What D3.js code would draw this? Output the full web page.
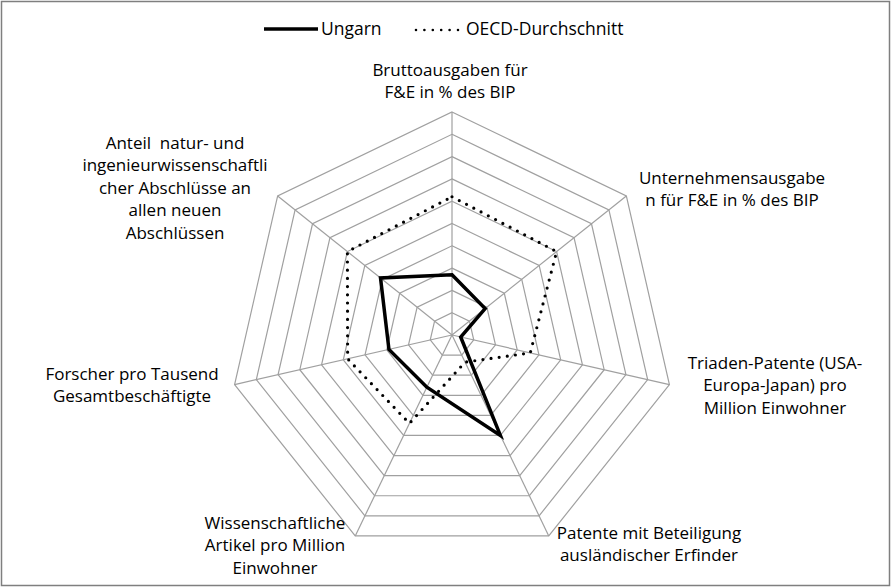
<!DOCTYPE html>
<html>
<head>
<meta charset="utf-8">
<script src="https://cdn.jsdelivr.net/npm/d3@7"></script>
<style>
  body { margin: 0; background: #fff; }
  text { font-family: "Open Sans", sans-serif; fill: #000; white-space: pre; }
</style>
</head>
<body>
<div id="radar-chart"></div>
<script>
// axis labels, clockwise from the top
const axes = [
    ["Bruttoausgaben für", "F&E in % des BIP"],
    ["Unternehmensausgabe", "n für F&E in % des BIP"],
    ["Triaden-Patente (USA-", "Europa-Japan) pro", "Million Einwohner"],
    ["Patente mit Beteiligung", "ausländischer Erfinder"],
    ["Wissenschaftliche", "Artikel pro Million", "Einwohner"],
    ["Forscher pro Tausend", "Gesamtbeschäftigte"],
    ["Anteil  natur- und", "ingenieurwissenschaftli", "cher Abschlüsse an", "allen neuen", "Abschlüssen"]
];
const ungarn = [2.7, 1.9, 0.4, 5.0, 2.6, 2.9, 4.1];
const oecd = [6.2, 6.0, 3.6, 1.35, 4.4, 4.8, 6.0];
const rings = d3.range(1, 11);
const seriesNames = ["Ungarn", "OECD-Durchschnitt"];

let width = 891, height = 587;
let cx = 452, cy = 335;

// where each label block sits (centre x, first line centre y)
const labelPos = [
    [450, 70], [732, 178], [775, 363], [649, 533],
    [275, 523], [132, 374], [175, 143]
];

var svg = d3.select("#radar-chart")
    .append("svg")
    .attr("width", width)
    .attr("height", height);

svg.append("rect")
    .attr("x", 1.5).attr("y", 1.5)
    .attr("width", width - 3).attr("height", height - 3)
    .style("fill", "none")
    .style("stroke", "#7f7f7f")
    .style("stroke-width", 1.5);

var r = d3.scaleLinear().domain([0, 10]).range([0, 223]);
var angle = d3.scaleLinear().domain([0, axes.length]).range([0, 2 * Math.PI]);

var g = svg.append("g").attr("transform", "translate(" + cx + "," + cy + ")");

var ringLine = d3.lineRadial()
    .angle(function(d, i) { return angle(i); })
    .radius(function(d) { return r(d); })
    .curve(d3.curveLinearClosed);

g.append("g")
    .attr("class", "rings")
    .selectAll("path")
    .data(rings)
    .enter().append("path")
    .attr("d", function(k) { return ringLine(axes.map(function() { return k; })); })
    .style("fill", "none")
    .style("stroke", "#a0a0a0")
    .style("stroke-width", 1.2);

g.append("g")
    .attr("class", "spokes")
    .selectAll("line")
    .data(axes)
    .enter().append("line")
    .attr("x1", 0).attr("y1", 0)
    .attr("x2", function(d, i) { return r(10) * Math.sin(angle(i)); })
    .attr("y2", function(d, i) { return -r(10) * Math.cos(angle(i)); })
    .style("stroke", "#a0a0a0")
    .style("stroke-width", 1.2);

g.append("path")
    .datum(oecd)
    .attr("d", ringLine)
    .style("fill", "none")
    .style("stroke", "#000")
    .style("stroke-width", 3.2)
    .style("stroke-linecap", "round")
    .style("stroke-dasharray", "0,8.2");

g.append("path")
    .datum(ungarn)
    .attr("d", ringLine)
    .style("fill", "none")
    .style("stroke", "#000")
    .style("stroke-width", 3.5)
    .style("stroke-linejoin", "miter");

// axis labels
svg.append("g")
    .attr("class", "labels")
    .selectAll("text")
    .data(axes)
    .enter().append("text")
    .attr("text-anchor", "middle")
    .style("font-size", "17px")
    .each(function(lines, i) {
        d3.select(this).selectAll("tspan")
            .data(lines)
            .enter().append("tspan")
            .attr("x", labelPos[i][0])
            .attr("y", function(d, j) { return labelPos[i][1] + j * 22.5; })
            .attr("dy", "0.35em")
            .text(function(d) { return d; });
    });

// legend
var legend = svg.append("g").attr("class", "legend");
legend.append("line")
    .attr("x1", 264).attr("x2", 318).attr("y1", 29).attr("y2", 29)
    .style("stroke", "#000").style("stroke-width", 3.5);
legend.append("text")
    .attr("x", 321).attr("y", 29).attr("dy", "0.35em")
    .style("font-size", "17.5px")
    .text(seriesNames[0]);
legend.append("line")
    .attr("x1", 416).attr("x2", 458).attr("y1", 30).attr("y2", 30)
    .style("stroke", "#000").style("stroke-width", 2.6)
    .style("stroke-linecap", "round")
    .style("stroke-dasharray", "0,8.4");
legend.append("text")
    .attr("x", 466).attr("y", 29).attr("dy", "0.35em")
    .style("font-size", "17.5px")
    .text(seriesNames[1]);
</script>
</body>
</html>
